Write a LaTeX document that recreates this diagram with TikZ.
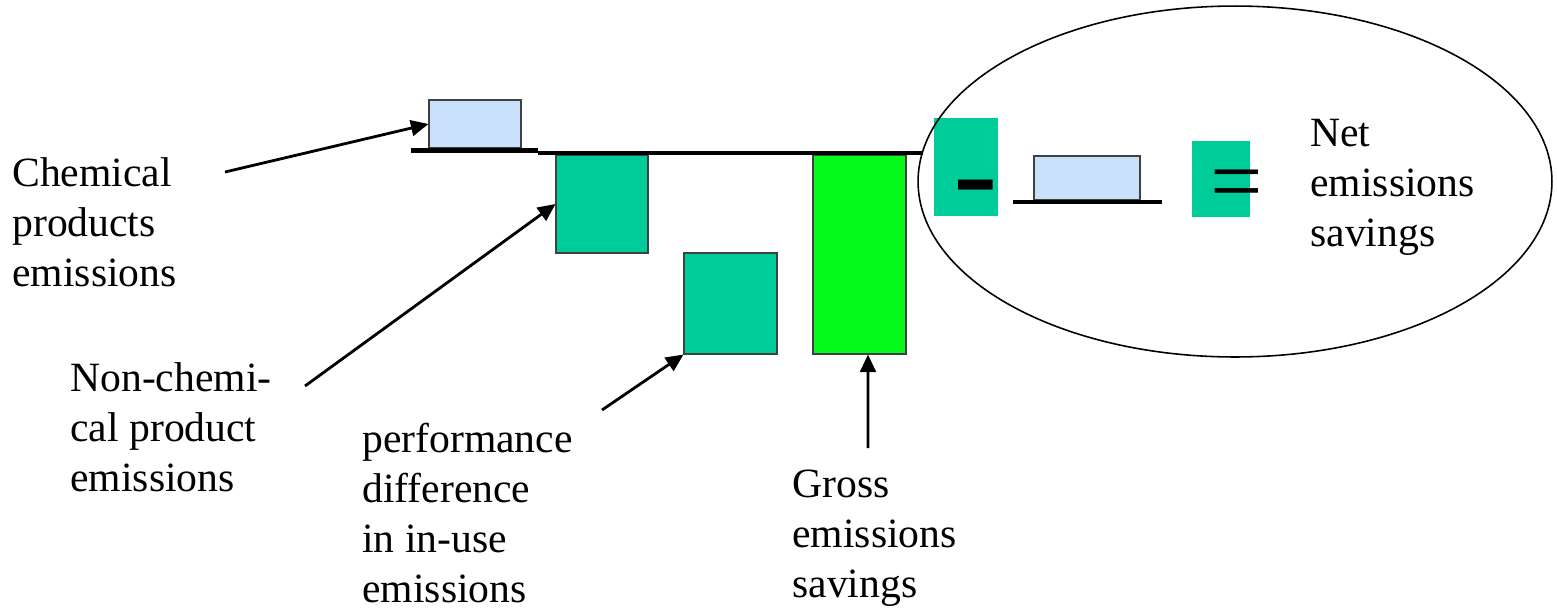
\documentclass[tikz,border=0pt]{standalone}
\usepackage{fontspec}
\setmainfont{Liberation Serif}
\usetikzlibrary{arrows.meta,fit}
\definecolor{teal1}{RGB}{0,204,153}
\definecolor{lime1}{RGB}{5,249,26}
\definecolor{lblue}{RGB}{200,224,250}
\begin{document}
\begin{tikzpicture}[x=0.02cm,y=-0.02cm,
  lbl/.style={anchor=base west, inner sep=0, align=left, font=\fontsize{23.7}{28.35}\selectfont},
  barbox/.style={inner sep=0, draw=black!75, line width=0.6pt},
  plainbox/.style={inner sep=0, fill=teal1},
  baseline/.style={line width=2.6pt},
  arr/.style={-{Triangle[length=10pt,width=9pt]}, line width=1.6pt},
  opsign/.style={inner sep=0, anchor=base west}
]
\useasboundingbox (0,0) rectangle (1557,613);

% bars
\node[fit={(429,100)(521,148)}, barbox, fill=lblue] (chem) {};
\node[fit={(556,155)(648,253)}, barbox, fill=teal1] (nonchem) {};
\node[fit={(684,253)(777,354)}, barbox, fill=teal1] (perf) {};
\node[fit={(813,155)(906,354)}, barbox, fill=lime1] (gross) {};
\node[fit={(934,118)(998,216)}, plainbox] (minusbox) {};
\node[fit={(1034,156)(1140,200)}, barbox, fill=lblue] (chem2) {};
\node[fit={(1192,141)(1250,217)}, plainbox] (equalsbox) {};

% base lines
\draw[baseline] (411,150.5) -- (538,150.5);
\draw[baseline] (538,153) -- (923,153);
\draw[baseline] (1013,202) -- (1162,202);

% operator signs
\node[opsign, font=\fontsize{76}{76}\selectfont] (minussign) at (953,216) {-};
\node[opsign, font=\fontsize{53}{53}\selectfont] (equalsign) at (1210,212) {=};

% ellipse
\draw[line width=0.9pt] (1235,181.5) ellipse [x radius=6.34cm, y radius=3.51cm];

% labels (anchor = baseline of last line)
\node[lbl] (tchem) at (12,286) {Chemical\\products\\emissions};
\node[lbl] (tnon) at (70,491) {Non-chemi-\\cal product\\emissions};
\node[lbl] (tperf) at (362,602) {performance\\difference\\in in-use\\emissions};
\node[lbl] (tgross) at (792,597) {Gross\\emissions\\savings};
\node[lbl] (tnet) at (1310,246) {Net\\emissions\\savings};

% arrows
\coordinate (a1) at (225,172);
\coordinate (a2) at (305,386);
\coordinate (a3) at (602,410);
\coordinate (a4) at (868,448);
\draw[arr] (a1) -- (chem.west);
\draw[arr] (a2) -- (nonchem.west);
\draw[arr] (a3) -- (perf.south west);
\draw[arr] (a4) -- ([xshift=0.17cm]gross.south);
\end{tikzpicture}
\end{document}
